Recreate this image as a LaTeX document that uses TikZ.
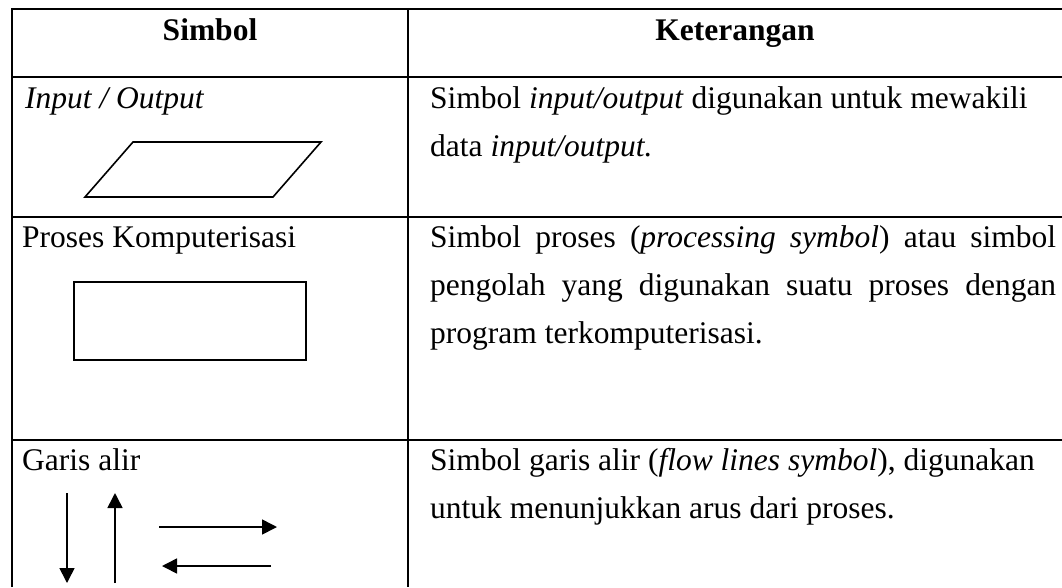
\documentclass[tikz,border=0pt]{standalone}
\usepackage{fontspec}
\setmainfont{Liberation Serif}
\usetikzlibrary{arrows.meta}
\begin{document}
\begin{tikzpicture}[x=1pt,y=-1pt,
  rule/.style={line width=1.2pt},
  body/.style={anchor=base west, inner sep=0pt, font=\fontsize{31.5}{48}\selectfont},
  head/.style={anchor=base, inner sep=0pt, font=\fontsize{31.5}{48}\selectfont\bfseries},
  symbolshape/.style={line width=1.6pt, line join=miter},
  flow/.style={line width=1.6pt, -{Triangle[length=15pt,width=15pt]}}]
\useasboundingbox (0,0) rectangle (1062,587);

% table rules
\draw[rule] (12,587) -- (12,9) -- (1062,9);
\draw[rule] (408,9) -- (408,587);
\draw[rule] (12,77) -- (1062,77);
\draw[rule] (12,217) -- (1062,217);
\draw[rule] (12,440) -- (1062,440);

% header
\node[head] (hsym) at (210,40) {Simbol};
\node[head] (hket) at (735,40) {Keterangan};

% row 1: input / output
\node[body] (r1l) at (25,108) {\textit{Input / Output}};
\draw[symbolshape] (85,197) -- (273,197) -- (321,142) -- (133,142) -- cycle;
\node[body] (r1a) at (430,108) {Simbol \textit{input/output} digunakan untuk mewakili};
\node[body] (r1b) at (430,156) {data \textit{input/output.}};

% row 2: process
\node[body] (r2l) at (22,247) {Proses Komputerisasi};
\draw[symbolshape] (74,282) rectangle (306,360);
\node[body] (r2a) at (430,247) {\makebox[626pt][s]{Simbol proses (\textit{processing symbol}) atau simbol}};
\node[body] (r2b) at (430,295) {\makebox[626pt][s]{pengolah yang digunakan suatu proses dengan}};
\node[body] (r2c) at (430,343) {program terkomputerisasi.};

% row 3: flow lines
\node[body] (r3l) at (22,470) {Garis alir};
\coordinate (dTop) at (67,493);   \coordinate (dBot) at (67,583);
\coordinate (uBot) at (115,583);  \coordinate (uTop) at (115,493);
\coordinate (rL) at (159,527);    \coordinate (rR) at (277,527);
\coordinate (lR) at (271,566);    \coordinate (lL) at (162,566);
\draw[flow] (dTop) -- (dBot);
\draw[flow] (uBot) -- (uTop);
\draw[flow] (rL) -- (rR);
\draw[flow] (lR) -- (lL);
\node[body] (r3a) at (430,470) {Simbol garis alir (\textit{flow lines symbol}), digunakan};
\node[body] (r3b) at (430,518) {untuk menunjukkan arus dari proses.};
\end{tikzpicture}
\end{document}
